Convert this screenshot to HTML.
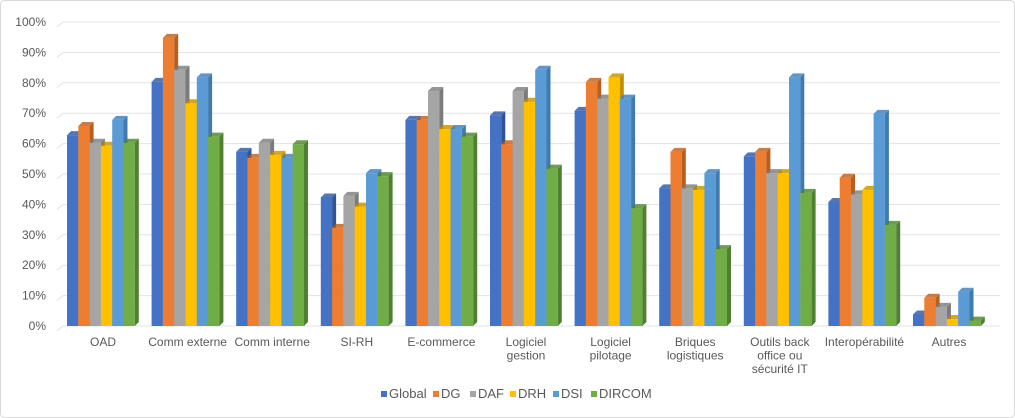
<!DOCTYPE html>
<html><head><meta charset="utf-8"><style>
html,body{margin:0;padding:0;background:#fff;}
svg{display:block;font-family:"Liberation Sans",sans-serif;}
</style></head><body>
<svg id="c" width="1015" height="418" viewBox="0 0 1015 418" xmlns="http://www.w3.org/2000/svg">
<rect x="0.5" y="0.5" width="1014" height="417" rx="4" fill="#fff" stroke="#d9d9d9"/>
<g id="grid" stroke="#e3e3e3" stroke-width="1"></g>
<g id="ylab" font-size="12" fill="#595959" text-anchor="end"></g>
<g id="bars"></g>
<g id="xlab" font-size="12" fill="#595959" text-anchor="middle"></g>
<g id="leg" font-size="13" fill="#595959"></g>
</svg>
<script>
const ns="http://www.w3.org/2000/svg";
function el(p,t,a,txt){const e=document.createElementNS(ns,t);for(const k in a)e.setAttribute(k,a[k]);if(txt!==undefined)e.textContent=txt;document.getElementById(p).appendChild(e);return e;}
const y0=326,py=3.04;
const Y=v=>y0-v*py;
for(let i=0;i<=10;i++){const y=Y(i*10);
el("grid","line",{x1:63,y1:y,x2:1000,y2:y});
el("grid","line",{x1:57,y1:y+5,x2:63,y2:y});
el("ylab","text",{x:46,y:y+4},(i*10)+"%");}
const cols=["#4472C4","#ED7D31","#A5A5A5","#FFC000","#5B9BD5","#70AD47"];
const dark=["#2F5597","#B85F1F","#7B7B7B","#C09000","#3F7AB0","#4E8030"];
const data=[
[63.5,66.5,61,60,68.5,61],[81,95.5,85,74,82.5,63],[58,56,61,57,56,60.5],[43,33,43.5,40,51,50],
[68.5,68.5,78,65.5,65.5,63],[70,60.5,78,74.5,85,52.5],[71.5,81,75.5,82.5,75.5,39.5],
[46,58,46,45.5,51,26],[56.5,58,51,51,82.5,44.5],[41.5,49.5,44,45.5,70.5,34],[4.5,10,7,3,12,2.5]];
const labels=[["OAD"],["Comm externe"],["Comm interne"],["SI-RH"],["E-commerce"],["Logiciel","gestion"],["Logiciel","pilotage"],["Briques","logistiques"],["Outils back","office ou","sécurité IT"],["Interopérabilité"],["Autres"]];
const bw=11.3,d=4;
data.forEach((g,ci)=>{const x0=67+ci*84.6;
g.forEach((v0,si)=>{const v=v0+0.6;const x=x0+si*bw;const t=Y(v);
el("bars","rect",{x:x,y:t+d,width:bw,height:y0-t-d,fill:cols[si]});
el("bars","polygon",{points:`${x+bw},${t+d} ${x+bw+d},${t} ${x+bw+d},${y0-d} ${x+bw},${y0}`,fill:dark[si]});
el("bars","polygon",{points:`${x},${t+d} ${x+d},${t} ${x+bw+d},${t} ${x+bw},${t+d}`,fill:dark[si],opacity:0.8});
});
labels[ci].forEach((l,li)=>el("xlab","text",{x:x0+36,y:346+li*13.5},l));
});
const leg=["Global","DG","DAF","DRH","DSI","DIRCOM"];
const lx=[381,433,470,510,553,591];
leg.forEach((n,i)=>{el("leg","rect",{x:lx[i],y:391,width:6,height:6,fill:cols[i]});el("leg","text",{x:lx[i]+8,y:398},n);});
</script>
</body></html>
